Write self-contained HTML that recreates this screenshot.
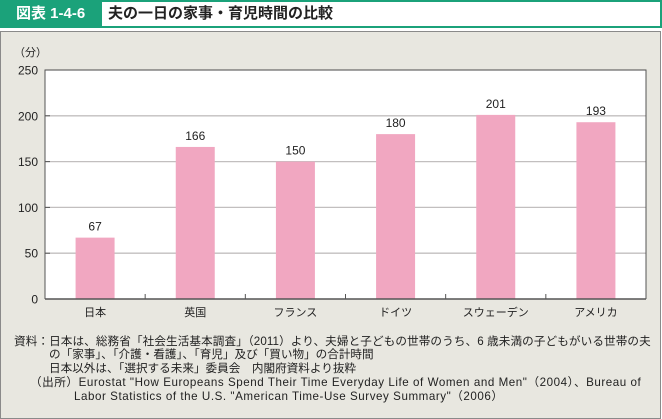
<!DOCTYPE html>
<html><head><meta charset="utf-8"><style>
body{margin:0;width:662px;height:419px;background:#fff;font-family:"Liberation Sans","Noto Sans CJK JP",sans-serif;position:relative;overflow:hidden}
#hdr{position:absolute;left:0;top:0;width:658px;height:24px;border:2px solid #1ba27a;background:#fff}
#tag{position:absolute;left:0;top:0;width:100px;height:24px;background:#1ba27a;color:#fff;font-weight:bold;font-size:15px;line-height:24px;padding-left:14px;box-sizing:border-box}
#ttl{position:absolute;left:106px;top:0;font-weight:bold;font-size:15px;line-height:24px;color:#222}
#panel{position:absolute;left:0;top:31px;width:659px;height:386px;border:1px solid #8a8a8a;background:#e8e7e0}
.nl{position:absolute;font-size:11.6px;line-height:14px;color:#222;white-space:pre}
</style></head><body>
<div id="hdr"><div id="tag">図表 1-4-6</div><div id="ttl">夫の一日の家事・育児時間の比較</div></div>
<div id="panel"></div>
<div>
<div class="nl" style="left:14px;top:335px;letter-spacing:0.1px">資料：日本は、総務省「社会生活基本調査」（2011）より、夫婦と子どもの世帯のうち、6 歳未満の子どもがいる世帯の夫</div>
<div class="nl" style="left:49px;top:348px">の「家事」、「介護・看護」、「育児」及び「買い物」の合計時間</div>
<div class="nl" style="left:49px;top:362px">日本以外は、「選択する未来」委員会　内閣府資料より抜粋</div>
<div class="nl" style="left:30px;top:376px;letter-spacing:0.55px">（出所）Eurostat "How Europeans Spend Their Time Everyday Life of Women and Men"（2004）、Bureau of</div>
<div class="nl" style="left:74px;top:390px;letter-spacing:0.55px">Labor Statistics of the U.S. "American Time-Use Survey Summary"（2006）</div>
</div>
<svg id="chart" width="662" height="419" style="position:absolute;left:0;top:0"></svg>
<script>
const categories=["日本","英国","フランス","ドイツ","スウェーデン","アメリカ"];
const values=[67,166,150,180,201,193];
const yTicks=[0,50,100,150,200,250];
const NS="http://www.w3.org/2000/svg";
const svg=document.getElementById('chart');
const L=45,R=646,T=70,B=299,yMax=250;
const y=v=>B-(v/yMax)*(B-T);
const bw=(R-L)/categories.length;
const x=i=>L+bw*(i+0.5);
function mk(t,a,p){const e=document.createElementNS(NS,t);for(const k in a)e.setAttribute(k,a[k]);(p||svg).appendChild(e);return e;}
const bg=mk('rect',{x:L,y:T,width:R-L,height:B-T,fill:'#fff'});


yTicks.forEach(t=>{
  if(t>0){const g=mk('line',{x1:L,x2:R,y1:y(t),y2:y(t),stroke:'#c2bfbf','stroke-width':1.3});
  
  }
  const tk=mk('line',{x1:L,x2:L+5,y1:y(t),y2:y(t),stroke:'#555'});
  
  
  const lb=mk('text',{x:38,y:y(t)+4.5,'text-anchor':'end','font-size':12,fill:'#222'});
  lb.textContent=t;
  
  
});
categories.forEach((c,i)=>{
  const r=mk('rect',{x:x(i)-19.5,y:y(values[i]),width:39,height:B-y(values[i]),fill:'#f1a7c1'});
  
  
  const v=mk('text',{x:x(i),y:y(values[i])-7,'text-anchor':'middle','font-size':12,fill:'#222'});
  v.textContent=values[i];
  
  
  const cl=mk('text',{x:x(i),y:B+17,'text-anchor':'middle','font-size':11,fill:'#222'});
  cl.textContent=c;
  
  
  if(i>0){const tk=mk('line',{x1:L+bw*i,x2:L+bw*i,y1:B,y2:B-5,stroke:'#555'});
  
  }
});
const fr=mk('path',{d:`M${L},${B}V${T}H${R}V${B}`,fill:'none',stroke:'#555','stroke-width':1});


const xa=mk('line',{x1:L,x2:R,y1:B,y2:B,stroke:'#555','stroke-width':1.5});


const un=mk('text',{x:14,y:56,'font-size':11,fill:'#222'});
un.textContent='（分）';


</script>
</body></html>
